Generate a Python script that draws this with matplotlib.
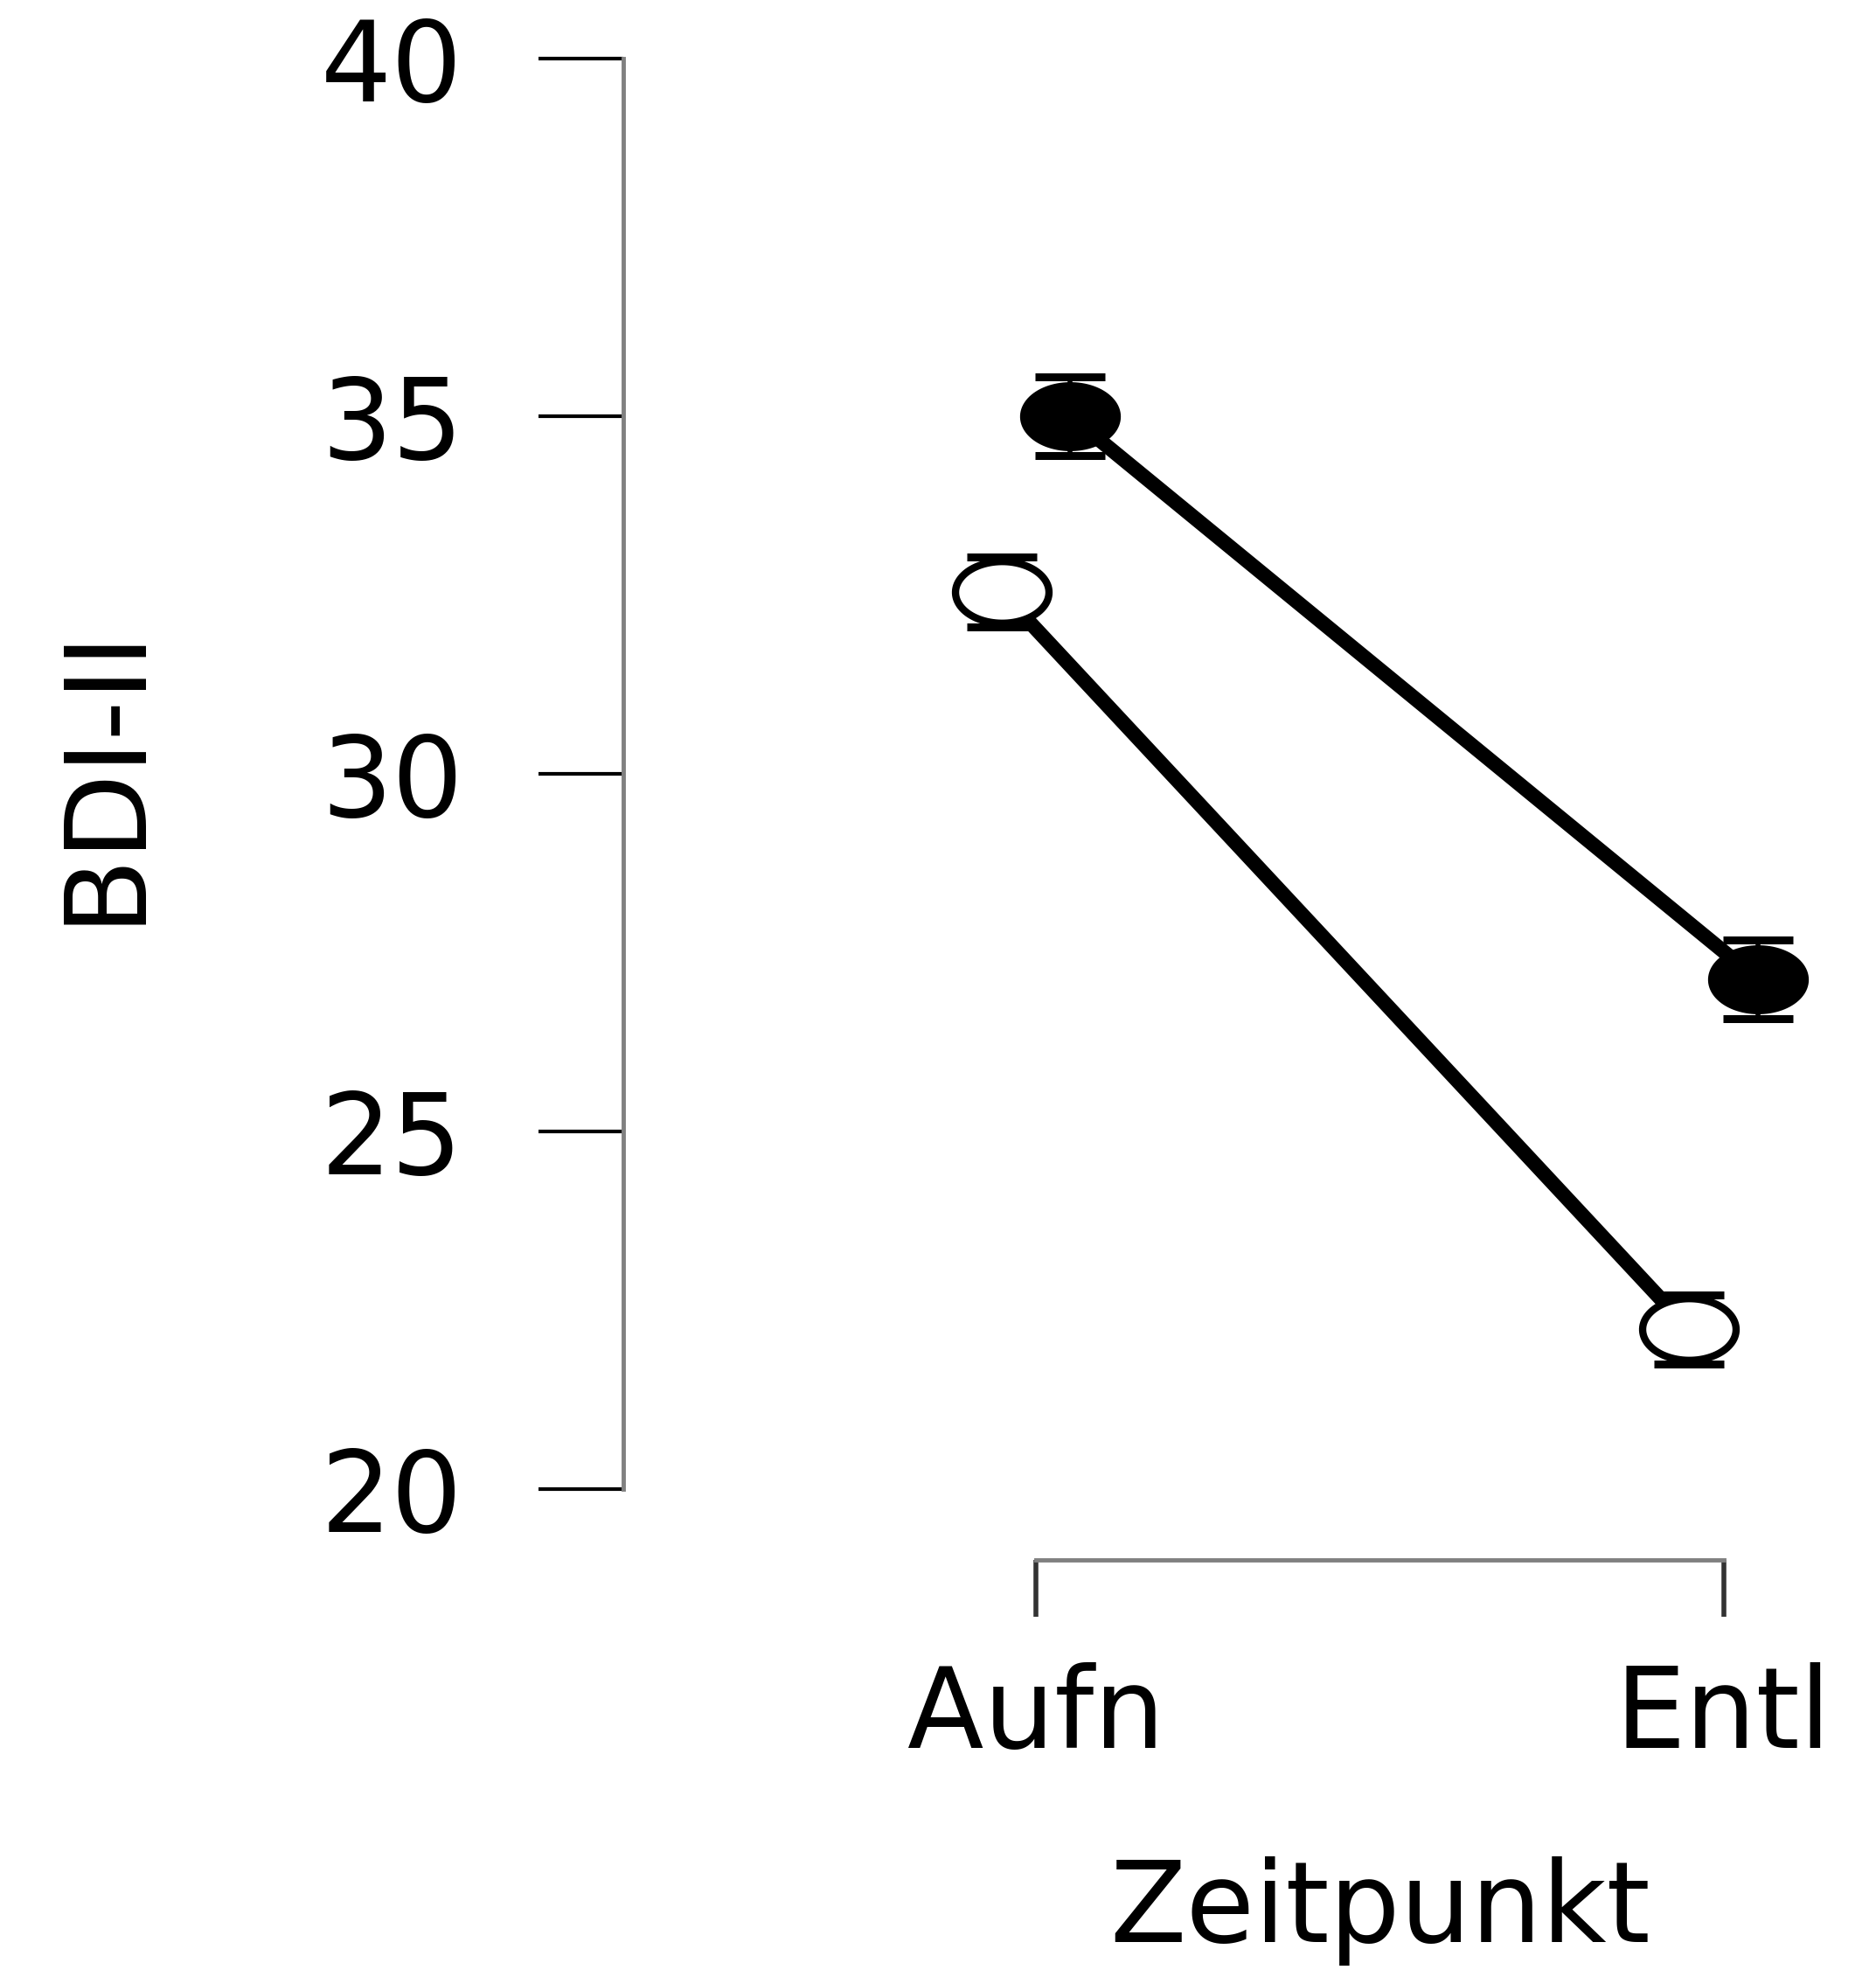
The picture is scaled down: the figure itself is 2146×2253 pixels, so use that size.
import numpy as np
import matplotlib
matplotlib.use("Agg")
import matplotlib.pyplot as plt
from matplotlib.path import Path
from matplotlib.transforms import blended_transform_factory

# ---- data ----
categories = ["Aufn", "Entl"]
filled_means = [35.0, 27.12]
filled_err = [0.55, 0.55]
open_means = [32.54, 22.23]
open_err = [0.49, 0.48]
y_ticks = [20, 25, 30, 35, 40]
x_label = "Zeitpunkt"
y_label = "BDI-II"

plt.rcParams['font.family'] = ['DejaVu Sans']

fig = plt.figure(figsize=(21.46, 22.53), dpi=100)
ax = fig.add_axes([0.3322, 0.20795, 0.6598, 0.7806])

x = np.arange(len(categories))
dodge = 0.05

# elliptical marker (picture is horizontally stretched)
t = np.linspace(0, 2 * np.pi, 100)
ell = Path(np.column_stack([np.cos(t), 0.66 * np.sin(t)]), closed=True)

for means, errs, off, face in [(open_means, open_err, -dodge, "white"),
                               (filled_means, filled_err, dodge, "black")]:
    xx = x + off
    ax.plot(xx, means, color="black", lw=12, solid_capstyle="butt", zorder=2)
    ax.errorbar(xx, means, yerr=errs, fmt="none", ecolor="black",
                elinewidth=4, capsize=29, capthick=6.5, zorder=3)
    ax.plot(xx, means, ls="none", marker=ell, markersize=77,
            markerfacecolor=face, markeredgecolor="black",
            markeredgewidth=6, zorder=4)

ax.set_xlim(-0.6, 1.2)
ax.set_ylim(19.0, 40.5)
ax.set_xticks(x)
ax.set_xticklabels(categories)
ax.set_yticks(y_ticks)
ax.set_yticklabels([str(v) for v in y_ticks])

for s in ["top", "right"]:
    ax.spines[s].set_visible(False)
ax.spines["left"].set_bounds(20, 40)
ax.spines["bottom"].set_bounds(0, 1)
for s in ["left", "bottom"]:
    ax.spines[s].set_color("#808080")
    ax.spines[s].set_linewidth(3.5)

ax.tick_params(axis="y", length=70, width=3, color="black", pad=62,
               labelsize=92)
ax.tick_params(axis="x", length=47, width=4, color="#333333", pad=37,
               labelsize=92)

ax.set_xlabel(x_label, fontsize=92)
ax.xaxis.set_label_coords(0.5, 0.0575,
                          transform=blended_transform_factory(ax.transData, fig.transFigure))
ax.set_ylabel(y_label, fontsize=92)
ax.yaxis.set_label_coords(0.0850, 30,
                          transform=blended_transform_factory(fig.transFigure, ax.transData))

fig.savefig("out.png", dpi=100)
